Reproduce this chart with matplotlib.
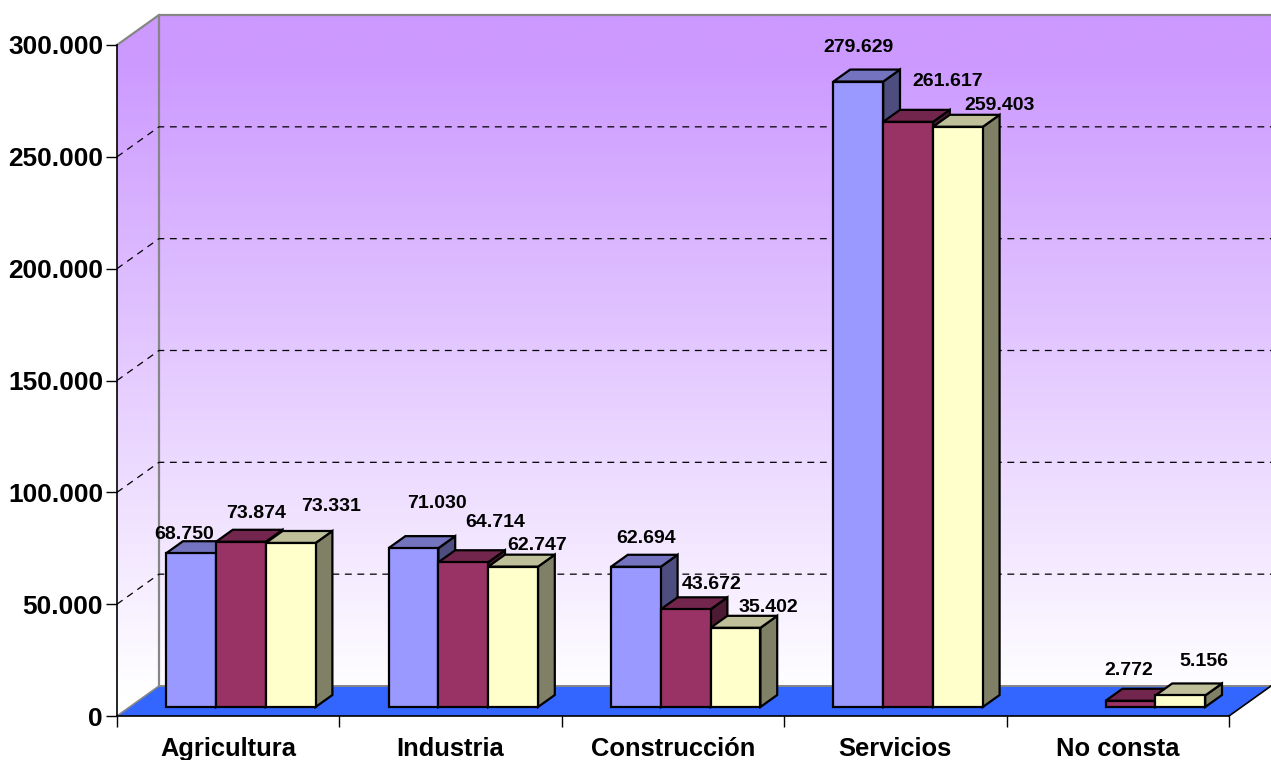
import numpy as np
import matplotlib
matplotlib.use("Agg")
import matplotlib.pyplot as plt
from matplotlib.colors import LinearSegmentedColormap
from matplotlib.patches import Polygon

categories = ["Agricultura", "Industria", "Construcción", "Servicios", "No consta"]
series_a = [68750, 71030, 62694, 279629, np.nan]
series_b = [73874, 64714, 43672, 261617, 2772]
series_c = [73331, 62747, 35402, 259403, 5156]
series = [series_a, series_b, series_c]
y_ticks = [0, 50000, 100000, 150000, 200000, 250000, 300000]
y_labels = ["0", "50.000", "100.000", "150.000", "200.000", "250.000", "300.000"]

# label offsets from the top centre of each bar's front face, in pixels
label_offsets = [
    [(-7, 19), (23, 45), (10, 28), (0, 34), None],
    [(15, 28), (32, 40), (26, 25), (40, 40), (-2, 30)],
    [(40, 36), (24, 21), (33, 20), (42, 21), (24, 34)],
]
front_colors = ["#9999FF", "#993366", "#FFFFCC"]
top_colors = ["#7373BF", "#73264D", "#BFBF99"]
side_colors = ["#4D4D80", "#4D1A33", "#808066"]

W, H = 1271, 760
L, R, T, B = 117, 1229, 45, 716
DX, DY = 42, 30

fig = plt.figure(figsize=(W / 100, H / 100), dpi=100, facecolor="white")
ax = fig.add_axes([L / W, 1 - B / H, (R - L) / W, (B - T) / H])
ax.set_facecolor("none")
plt.rcParams["font.family"] = "Liberation Sans"
XMAX, YMAX = 5, 300000
xu, yu = XMAX / (R - L), YMAX / (B - T)
ddx, ddy = DX * xu, DY * yu


def off(x, y, d):
    return (x + d * ddx, y + d * ddy)


# walls with vertical gradient
cmap = LinearSegmentedColormap.from_list("wall", [(0, "#CC99FF"), (0.06, "#CC99FF"), (0.97, "#FFFFFF"), (1, "#FFFFFF")])
grad = np.linspace(0, 1, 512)[:, None]
im = ax.imshow(grad, cmap=cmap, aspect="auto", zorder=0,
               extent=(0, XMAX + ddx, 0, YMAX + ddy), origin="upper")
wall = Polygon([off(0, 0, 0), off(0, YMAX, 0), off(0, YMAX, 1), off(XMAX, YMAX, 1), off(XMAX, 0, 1), off(0, 0, 1)],
               closed=True, transform=ax.transData, fill=False, edgecolor="none", clip_on=False)
ax.add_patch(wall)
im.set_clip_path(wall)
im.set_clip_box(fig.bbox)
ax.set_xlim(0, XMAX)
ax.set_ylim(0, YMAX)

# wall borders
GREY = "#868686"
ax.plot(*zip(off(0, YMAX, 0), off(0, YMAX, 1), off(XMAX, YMAX, 1)), color=GREY, lw=1.6, clip_on=False, zorder=1)
ax.plot(*zip(off(0, 0, 1), off(0, YMAX, 1)), color=GREY, lw=1.6, clip_on=False, zorder=1)

# grid lines
for v in y_ticks[1:-1]:
    ax.plot(*zip(off(0, v, 0), off(0, v, 1), off(XMAX, v, 1)), color="black", lw=0.9,
            dashes=(5.5, 4.5), clip_on=False, zorder=1)

# floor
ax.add_patch(Polygon([off(0, 0, 0), off(XMAX, 0, 0), off(XMAX, 0, 1), off(0, 0, 1)], closed=True,
                     facecolor="#3366FF", edgecolor="none", clip_on=False, zorder=2))
ax.plot(*zip(off(0, 0, 1), off(XMAX, 0, 1)), color=GREY, lw=1.4, clip_on=False, zorder=2)
ax.plot(*zip(off(0, 0, 0), off(0, 0, 1)), color=GREY, lw=1.2, clip_on=False, zorder=2)
ax.plot(*zip(off(XMAX, 0, 0), off(XMAX, 0, 1)), color="black", lw=1.2, clip_on=False, zorder=2)

# bars
gap, bw = 36.6 * xu, 49.8 * xu
d0, d1 = 0.3, 0.7
edge = dict(edgecolor="black", linewidth=1.6, joinstyle="miter", clip_on=False, zorder=3)
for i in range(len(categories)):
    for k, vals in enumerate(series):
        v = vals[i]
        if np.isnan(v):
            continue
        x0 = i + gap + k * bw
        x1 = x0 + bw
        ax.add_patch(Polygon([off(x1, 0, d0), off(x1, 0, d1), off(x1, v, d1), off(x1, v, d0)],
                             facecolor=side_colors[k], **edge))
        ax.add_patch(Polygon([off(x0, v, d0), off(x1, v, d0), off(x1, v, d1), off(x0, v, d1)],
                             facecolor=top_colors[k], **edge))
        ax.add_patch(Polygon([off(x0, 0, d0), off(x1, 0, d0), off(x1, v, d0), off(x0, v, d0)],
                             facecolor=front_colors[k], **edge))
        ax.annotate(f"{int(v):,}".replace(",", "."), xy=off((x0 + x1) / 2, v, d0),
                    xytext=label_offsets[k][i], textcoords="offset pixels",
                    ha="center", va="center", fontsize=14, fontweight="bold",
                    family="Liberation Sans", color="black", zorder=5, annotation_clip=False)

# axes
for s in ("top", "right"):
    ax.spines[s].set_visible(False)
for s in ("left", "bottom"):
    ax.spines[s].set_color("black")
    ax.spines[s].set_linewidth(1.2)
    ax.spines[s].set_zorder(2.5)
ax.set_yticks(y_ticks, y_labels)
ax.set_xticks(range(len(categories) + 1), [""] * (len(categories) + 1))
ax.set_xticks(np.arange(len(categories)) + 0.5, categories, minor=True)
ax.tick_params(axis="y", length=8, width=1, color="black", pad=2, labelsize=18.9)
ax.tick_params(axis="x", which="major", length=8, width=1, color="black")
ax.tick_params(axis="x", which="minor", length=0, pad=15, labelsize=18.4)
for t in ax.get_yticklabels() + ax.get_xticklabels(minor=True):
    t.set_fontweight("bold")
    t.set_family("Liberation Sans")

fig.savefig("out.png", dpi=100, facecolor="white")
